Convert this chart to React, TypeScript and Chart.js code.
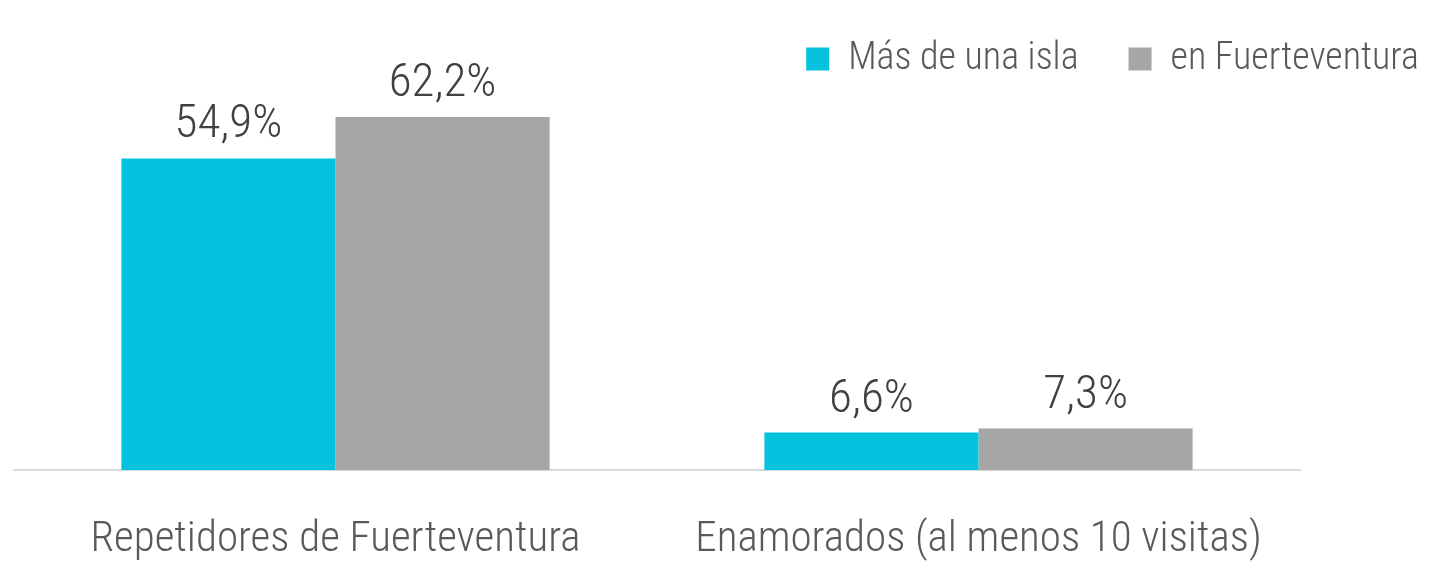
import React, { useEffect, useRef } from "react";
import { Chart, registerables } from "chart.js";

Chart.register(...registerables);

const categories = ["Repetidores de Fuerteventura", "Enamorados (al menos 10 visitas)"];
const seriesNames = ["Más de una isla", "en Fuerteventura"];
const masDeUnaIsla = [54.9, 6.6];
const enFuerteventura = [62.2, 7.3];
const colors = ["#05C3DE", "#A6A6A6"];

const FONT = "'Roboto Condensed', 'DejaVu Sans Condensed', sans-serif";

const fmt = (v: number) => v.toFixed(1).replace(".", ",") + "%";

const labelPlugin = {
  id: "barLabels",
  afterDatasetsDraw(chart: any) {
    const ctx = chart.ctx;
    ctx.save();
    ctx.font = `300 47px ${FONT}`;
    ctx.fillStyle = "#404040";
    ctx.textAlign = "center";
    ctx.textBaseline = "alphabetic";
    chart.data.datasets.forEach((ds: any, i: number) => {
      const meta = chart.getDatasetMeta(i);
      meta.data.forEach((el: any, j: number) => {
        ctx.fillText(fmt(ds.data[j]), el.x, el.y - 21);
      });
    });
    ctx.restore();
  },
};

export default function App() {
  const ref = useRef<HTMLCanvasElement | null>(null);
  useEffect(() => {
    if (!ref.current) return;
    const chart = new Chart(ref.current, {
      type: "bar",
      data: {
        labels: categories,
        datasets: [
          { label: seriesNames[0], data: masDeUnaIsla, backgroundColor: colors[0] },
          { label: seriesNames[1], data: enFuerteventura, backgroundColor: colors[1] },
        ],
      },
      plugins: [labelPlugin],
      options: {
        animation: false,
        responsive: true,
        maintainAspectRatio: false,
        layout: { padding: { left: 6, top: -18, right: -22, bottom: 0 } },
        datasets: { bar: { categoryPercentage: 0.666, barPercentage: 1.0 } } as any,
        plugins: {
          tooltip: { enabled: false },
          legend: {
            position: "top",
            align: "end",
            labels: {
              boxWidth: 23,
              boxHeight: 23,
              padding: 50,
              color: "#595959",
              font: { size: 38, family: FONT, weight: "300" },
            },
          },
        },
        scales: {
          x: {
            grid: { display: false },
            border: { display: true, color: "#D9D9D9", width: 2 },
            ticks: {
              color: "#595959",
              font: { size: 43, family: FONT, weight: "300" },
              padding: 36,
              maxRotation: 0,
              minRotation: 0,
              autoSkip: false,
            },
            afterFit: (s: any) => {
              s.height = 91;
            },
          },
          y: {
            display: false,
            min: 0,
            max: 67.3,
          },
          yR: {
            type: "linear",
            position: "right",
            display: true,
            grid: { display: false },
            border: { display: false },
            ticks: { display: false },
            afterFit: (s: any) => {
              s.width = 169;
            },
          },
        },
      },
    });
    return () => chart.destroy();
  }, []);
  return (
    <div style={{ width: 1439, height: 553, position: "relative" }}>
      <canvas ref={ref} />
    </div>
  );
}
